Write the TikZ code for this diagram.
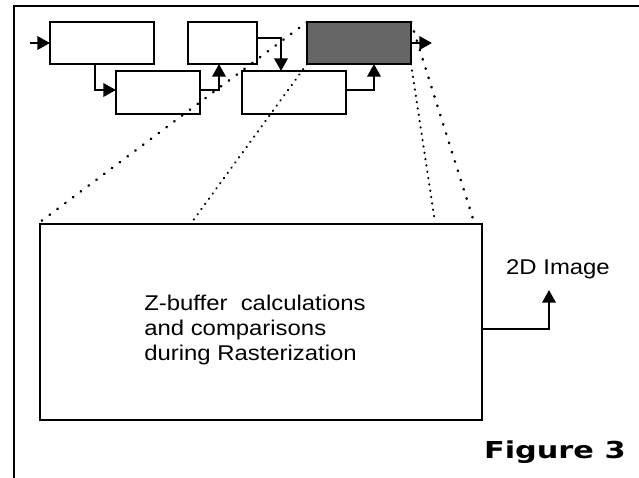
\documentclass[tikz,border=0pt]{standalone}
\usepackage{fontspec}
\setmainfont{Liberation Sans}
\newfontfamily\figfont{DejaVu Sans}
\usetikzlibrary{arrows.meta}
\begin{document}
\begin{tikzpicture}[x={(0.75pt,0)}, y={(0,-0.75pt)},
  stage/.style={draw, line width=1.9pt, inner sep=0pt, outer sep=0pt, anchor=north west, minimum height=31.5pt},
  arr/.style={line width=1.9pt, -{Triangle[length=9.5pt,width=10pt]}},
  coarsedot/.style={line width=2pt, line cap=round, dash pattern=on 0.3pt off 7pt},
  finedot/.style={line width=1.6pt, line cap=round, dash pattern=on 0.3pt off 4.5pt},
  lbl/.style={inner sep=0pt, xscale=1.12, font=\fontsize{16pt}{18.75pt}\selectfont}]
\useasboundingbox (0,0) rectangle (639,478);
% frame
\draw[line width=2.2pt] (14,478) -- (14,6) -- (639,6);
% pipeline boxes
\node[stage, minimum width=78pt] (A) at (50,22) {};
\node[stage, minimum width=63pt, minimum height=32.25pt] (B) at (116,71) {};
\node[stage, minimum width=51.75pt] (C) at (188,22) {};
\node[stage, minimum width=78pt, minimum height=32.25pt] (D) at (242,71) {};
\node[stage, minimum width=78pt, fill=black!60] (E) at (307,22) {};
\node[draw, line width=2.2pt, inner sep=0pt, outer sep=0pt, anchor=north west, minimum width=331.5pt, minimum height=147pt] (F) at (40,224) {};
% connectors
\coordinate (in) at (30,43);
\coordinate (k1) at (95,90);
\coordinate (k2) at (219,90);
\coordinate (k3) at (281,38);
\coordinate (k4) at (374,90);
\coordinate (out) at (432,43);
\coordinate (k5) at (549,329);
\coordinate (imgtip) at (549,290);
\draw[arr] (in) -- (A.west);
\draw[arr] (A.south -| k1) -- (k1) -- (B.west |- k1);
\draw[arr] (B.east |- k2) -- (k2) -- (C.south -| k2);
\draw[arr] (C.east |- k3) -- (k3) -- (D.north -| k3);
\draw[arr] (D.east |- k4) -- (k4) -- (E.south -| k4);
\draw[arr] (E.east) -- (out);
\draw[arr] (F.east |- k5) -- (k5) -- (imgtip);
% zoom lines
\coordinate (t1) at (40,222);
\coordinate (t2) at (192,222);
\coordinate (t3) at (435,222);
\coordinate (t4) at (474,222);
\draw[coarsedot] (E.north west) -- (t1);
\draw[finedot] (E.south west) -- (t2);
\draw[finedot] (E.south east) -- (t3);
\draw[coarsedot] (E.north east) -- (t4);
% texts
\node[lbl, anchor=north west, align=left] (ftext) at (144,295) {Z-buffer\ \ calculations\\and comparisons\\during Rasterization};
\node[lbl, anchor=base] (img) at (558,274) {2D Image};
\node[inner sep=0pt, anchor=base east, xscale=1.3, font=\figfont\bfseries\fontsize{17.5pt}{20pt}\selectfont] (fig) at (626,458) {Figure 3};
\end{tikzpicture}
\end{document}
